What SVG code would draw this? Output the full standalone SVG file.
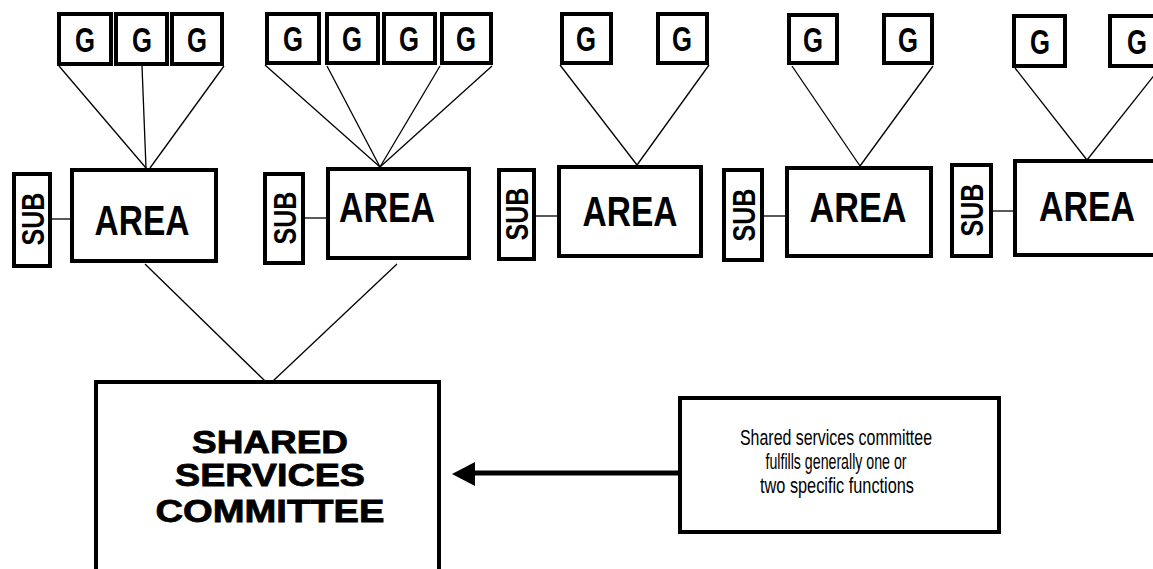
<svg xmlns="http://www.w3.org/2000/svg" width="1153" height="569" viewBox="0 0 1153 569">
<style>
.box{fill:#fff;stroke:#000;stroke-width:4}
.ln{stroke:#000;stroke-width:1.3;fill:none}
.g{font-family:"Liberation Sans",Arial,sans-serif;font-weight:bold;font-size:35px;text-anchor:middle}
.area{font-family:"Liberation Sans",Arial,sans-serif;font-weight:bold;font-size:42px;text-anchor:middle}
.sub{font-family:"Liberation Sans",Arial,sans-serif;font-weight:bold;font-size:32px;text-anchor:middle}
.ssc{font-family:"Liberation Sans",Arial,sans-serif;font-weight:bold;font-size:32px;text-anchor:middle;stroke:#000;stroke-width:0.8}
.note{font-family:"Liberation Sans",Arial,sans-serif;font-size:22px;text-anchor:middle}
</style>
<rect width="1153" height="569" fill="#fff"/>
<g id="connectors">
  <line class="ln" x1="59" y1="66" x2="146" y2="168"/>
  <line class="ln" x1="142" y1="66" x2="146" y2="168"/>
  <line class="ln" x1="224" y1="66" x2="150" y2="168"/>
  <line class="ln" x1="265" y1="65" x2="380" y2="167"/>
  <line class="ln" x1="327" y1="66" x2="380" y2="167"/>
  <line class="ln" x1="440" y1="66" x2="380" y2="167"/>
  <line class="ln" x1="492" y1="66" x2="380" y2="167"/>
  <line class="ln" x1="560" y1="65" x2="637" y2="165"/>
  <line class="ln" x1="709" y1="65" x2="637" y2="165"/>
  <line class="ln" x1="792" y1="66" x2="860" y2="166"/>
  <line class="ln" x1="933" y1="66" x2="860" y2="166"/>
  <line class="ln" x1="1015" y1="68" x2="1087" y2="160"/>
  <line class="ln" x1="1160" y1="68" x2="1087" y2="160"/>
  <line class="ln" x1="52" y1="219" x2="70" y2="219"/>
  <line class="ln" x1="305" y1="218" x2="326" y2="218"/>
  <line class="ln" x1="536" y1="216" x2="557" y2="216"/>
  <line class="ln" x1="764" y1="216" x2="785" y2="216"/>
  <line class="ln" x1="993" y1="211" x2="1013" y2="211"/>
  <line class="ln" x1="145" y1="264" x2="265" y2="381"/>
  <line class="ln" x1="397" y1="264" x2="273" y2="381"/>
  <line x1="678" y1="473" x2="470" y2="473" stroke="#000" stroke-width="5"/>
  <polygon points="452,474 475,462 475,486" fill="#000"/>
</g>
<g id="g1a"><rect class="box" x="59" y="14" width="52" height="50"/><text class="g" x="85" y="52" textLength="20" lengthAdjust="spacingAndGlyphs">G</text></g>
<g id="g1b"><rect class="box" x="116" y="14" width="51" height="50"/><text class="g" x="142" y="52" textLength="20" lengthAdjust="spacingAndGlyphs">G</text></g>
<g id="g1c"><rect class="box" x="172" y="14" width="50" height="50"/><text class="g" x="197" y="52" textLength="20" lengthAdjust="spacingAndGlyphs">G</text></g>
<g id="g2a"><rect class="box" x="267" y="14" width="52" height="49"/><text class="g" x="293" y="51" textLength="20" lengthAdjust="spacingAndGlyphs">G</text></g>
<g id="g2b"><rect class="box" x="327" y="14" width="51" height="49"/><text class="g" x="352" y="51" textLength="20" lengthAdjust="spacingAndGlyphs">G</text></g>
<g id="g2c"><rect class="box" x="384" y="14" width="51" height="49"/><text class="g" x="409" y="51" textLength="20" lengthAdjust="spacingAndGlyphs">G</text></g>
<g id="g2d"><rect class="box" x="442" y="14" width="49" height="49"/><text class="g" x="466" y="51" textLength="20" lengthAdjust="spacingAndGlyphs">G</text></g>
<g id="g3a"><rect class="box" x="562" y="14" width="49" height="49"/><text class="g" x="586" y="51" textLength="20" lengthAdjust="spacingAndGlyphs">G</text></g>
<g id="g3b"><rect class="box" x="658" y="14" width="49" height="49"/><text class="g" x="682" y="51" textLength="20" lengthAdjust="spacingAndGlyphs">G</text></g>
<g id="g4a"><rect class="box" x="789" y="15" width="48" height="48"/><text class="g" x="813" y="52" textLength="20" lengthAdjust="spacingAndGlyphs">G</text></g>
<g id="g4b"><rect class="box" x="884" y="15" width="48" height="48"/><text class="g" x="908" y="52" textLength="20" lengthAdjust="spacingAndGlyphs">G</text></g>
<g id="g5a"><rect class="box" x="1014" y="16" width="51" height="50"/><text class="g" x="1040" y="54" textLength="20" lengthAdjust="spacingAndGlyphs">G</text></g>
<g id="g5b"><rect class="box" x="1110" y="16" width="50" height="50"/><text class="g" x="1137" y="54" textLength="20" lengthAdjust="spacingAndGlyphs">G</text></g>
<g id="sub1"><rect class="box" x="14" y="174" width="36" height="92"/><text class="sub" transform="translate(32,219) rotate(-90)" y="11.5" textLength="53" lengthAdjust="spacingAndGlyphs">SUB</text></g>
<g id="sub2"><rect class="box" x="265" y="174" width="38" height="89"/><text class="sub" transform="translate(284,218) rotate(-90)" y="11.5" textLength="53" lengthAdjust="spacingAndGlyphs">SUB</text></g>
<g id="sub3"><rect class="box" x="499" y="170" width="35" height="89"/><text class="sub" transform="translate(516,214) rotate(-90)" y="11.5" textLength="53" lengthAdjust="spacingAndGlyphs">SUB</text></g>
<g id="sub4"><rect class="box" x="724" y="170" width="38" height="90"/><text class="sub" transform="translate(743,215) rotate(-90)" y="11.5" textLength="53" lengthAdjust="spacingAndGlyphs">SUB</text></g>
<g id="sub5"><rect class="box" x="952" y="165" width="39" height="91"/><text class="sub" transform="translate(971,210) rotate(-90)" y="11.5" textLength="53" lengthAdjust="spacingAndGlyphs">SUB</text></g>
<g id="area1"><rect class="box" x="72" y="170" width="144" height="91"/><text class="area" x="142" y="235" textLength="95" lengthAdjust="spacingAndGlyphs">AREA</text></g>
<g id="area2"><rect class="box" x="328" y="169" width="141" height="89"/><text class="area" x="387" y="222" textLength="96" lengthAdjust="spacingAndGlyphs">AREA</text></g>
<g id="area3"><rect class="box" x="559" y="167" width="142" height="89"/><text class="area" x="630" y="226" textLength="95" lengthAdjust="spacingAndGlyphs">AREA</text></g>
<g id="area4"><rect class="box" x="787" y="168" width="144" height="88"/><text class="area" x="858" y="222" textLength="97" lengthAdjust="spacingAndGlyphs">AREA</text></g>
<g id="area5"><rect class="box" x="1015" y="161" width="150" height="94"/><text class="area" x="1087" y="221" textLength="96" lengthAdjust="spacingAndGlyphs">AREA</text></g>
<g id="shared"><rect class="box" x="96" y="382" width="343" height="200"/>
<text class="ssc" x="270" y="453" textLength="156" lengthAdjust="spacingAndGlyphs">SHARED</text>
<text class="ssc" x="270" y="486" textLength="190" lengthAdjust="spacingAndGlyphs">SERVICES</text>
<text class="ssc" x="270" y="522" textLength="229" lengthAdjust="spacingAndGlyphs">COMMITTEE</text></g>
<g id="note"><rect class="box" x="680" y="398" width="319" height="134"/>
<text class="note" x="836" y="445" textLength="192" lengthAdjust="spacingAndGlyphs">Shared services committee</text>
<text class="note" x="836" y="469" textLength="141" lengthAdjust="spacingAndGlyphs">fulfills generally one or</text>
<text class="note" x="837" y="493" textLength="154" lengthAdjust="spacingAndGlyphs">two specific functions</text></g>
</svg>
